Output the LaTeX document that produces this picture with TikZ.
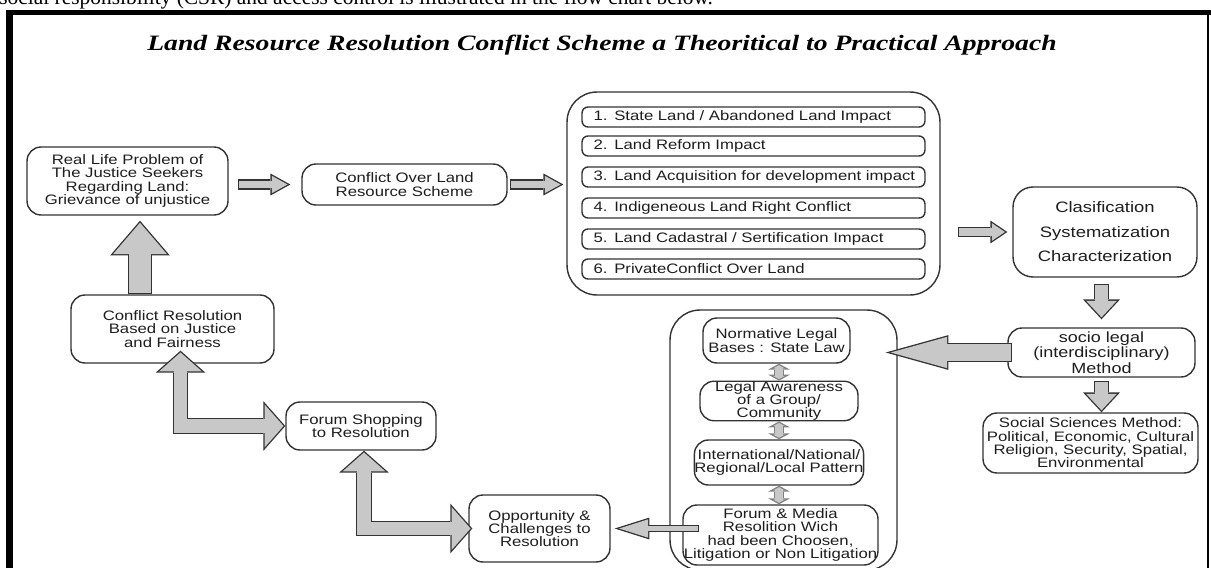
\documentclass[tikz,border=0pt]{standalone}
\usepackage{fontspec}
\usepackage{tikz}
\usetikzlibrary{arrows.meta, positioning, calc}
\newfontfamily\boxfont[FakeStretch=1.22]{Liberation Sans}
\newfontfamily\titlefont[FakeStretch=1.26]{Liberation Serif}
\newfontfamily\pagefont{Liberation Serif}
\definecolor{arrowgray}{HTML}{C8C8C8}
\definecolor{edgegray}{HTML}{333333}
\definecolor{textgray}{HTML}{1E1E1E}

% block arrow: #2 shaft, #3 head length, #4 head width (pt), #5 path
\newcommand{\blockarrow}[5][edgegray]{%
  \pgfmathsetmacro\tipsin{(#4/2)/sqrt((#4/2)^2+(#3)^2)}%
  \pgfmathsetmacro\tipin{0.75/\tipsin}%
  \pgfmathsetmacro\innerlen{#3-0.75-\tipin}%
  \pgfmathsetmacro\innerwid{#4*\innerlen/#3}%
  \draw[#1, line width=#2pt+1.5pt, -{Triangle[length=#3pt, width=#4pt, line width=0pt]}] #5;
  \draw[arrowgray, line width=#2pt, -{Triangle[length=\innerlen pt, width=\innerwid pt, line width=0pt]}, shorten >=\tipin pt, shorten <=0.75pt] #5;
}
\newcommand{\blockarrows}[5][edgegray]{%
  \pgfmathsetmacro\tipsin{(#4/2)/sqrt((#4/2)^2+(#3)^2)}%
  \pgfmathsetmacro\tipin{0.75/\tipsin}%
  \pgfmathsetmacro\innerlen{#3-0.75-\tipin}%
  \pgfmathsetmacro\innerwid{#4*\innerlen/#3}%
  \draw[#1, line width=#2pt+1.5pt, {Triangle[length=#3pt, width=#4pt, line width=0pt]}-{Triangle[length=#3pt, width=#4pt, line width=0pt]}] #5;
  \draw[arrowgray, line width=#2pt, {Triangle[length=\innerlen pt, width=\innerwid pt, line width=0pt]}-{Triangle[length=\innerlen pt, width=\innerwid pt, line width=0pt]}, shorten >=\tipin pt, shorten <=\tipin pt] #5;
}

\begin{document}
\begin{tikzpicture}[x=0.02cm, y=-0.02cm,
  box/.style={rectangle, rounded corners=0.28cm, draw=edgegray, line width=0.8pt, fill=white, text=textgray, align=center, inner sep=0pt, font=\boxfont\fontsize{7.8}{7.6}\selectfont},
  listitem/.style={box, rounded corners=0.12cm, minimum width=6.86cm, minimum height=0.4cm, text width=7.2cm, inner xsep=-0.17cm, inner ysep=0pt, align=left, execute at begin node=\hspace*{0.4cm}},
  groupbox/.style={rectangle, rounded corners=0.6cm, draw=edgegray, line width=0.8pt}
]
\clip (0,0) rectangle (1211,568);

% page frame and running text
\fill[black] (6,10) rectangle (1211,15);
\fill[black] (6,10) rectangle (13,568);
\draw[line width=0.9pt] (1208,12) -- (1208,568);
\node[anchor=base west, inner sep=0pt, font=\pagefont\fontsize{12.2}{14}\selectfont] (intro) at (-1,5) {social responsibility (CSR) and access control is illustrated in the flow chart below.};

\node[font=\titlefont\bfseries\itshape\fontsize{12.5}{13}\selectfont] (title) at (602,45) {Land Resource Resolution Conflict Scheme a Theoritical to Practical Approach};

% top row
\node[box, minimum width=4.02cm, minimum height=1.36cm] (real) at (127.5,181) {Real Life Problem of\\The Justice Seekers\\Regarding Land:\\Grievance of unjustice};
\node[box, minimum width=4.1cm, minimum height=0.82cm] (cfl) at (404.5,184.5) {Conflict Over Land\\Resource Scheme};

\node[groupbox, minimum width=7.46cm, minimum height=4.06cm] (list) at (753.5,193.5) {};
\node[listitem] (it1) at (753.5,117) {1. State Land / Abandoned Land Impact};
\node[listitem] (it2) at (753.5,146) {2. Land Reform Impact};
\node[listitem] (it3) at (753.5,177) {3. Land Acquisition for development impact};
\node[listitem] (it4) at (753.5,208) {4. Indigeneous Land Right Conflict};
\node[listitem] (it5) at (753.5,239) {5. Land Cadastral / Sertification Impact};
\node[listitem] (it6) at (753.5,269) {6. PrivateConflict Over Land};

\node[box, rounded corners=0.4cm, minimum width=3.68cm, minimum height=1.8cm, font=\boxfont\fontsize{8.6}{13.9}\selectfont] (clas) at (1105,232) {Clasification\\Systematization\\Characterization};
\node[box, minimum width=3.74cm, minimum height=0.98cm, font=\boxfont\fontsize{8.4}{7.6}\selectfont] (socio) at (1101.5,352.5) {socio legal\\(interdisciplinary)\\Method};
\node[box, minimum width=4.3cm, minimum height=1.2cm] (social) at (1090.5,443) {Social Sciences Method:\\Political, Economic, Cultural\\Religion, Security, Spatial,\\Environmental};

% legal bases
\node[groupbox, minimum width=4.54cm, minimum height=5.2cm] (legal) at (783.5,440) {};
\node[box, minimum width=2.94cm, minimum height=0.9cm] (norm) at (776.5,340.5) {Normative Legal\\Bases : State Law};
\node[box, minimum width=3.16cm, minimum height=0.76cm] (aware) at (779,401) {Legal Awareness\\of a Group/\\Community};
\node[box, minimum width=3.36cm, minimum height=0.9cm] (intl) at (779,462.5) {International/National/\\Regional/Local Pattern};
\node[box, minimum width=3.9cm, minimum height=1.2cm] (fmed) at (780.5,535) {Forum \& Media\\Resolition Wich\\had been Choosen,\\Litigation or Non Litigation};

% left column
\node[box, minimum width=4.06cm, minimum height=1.36cm] (cres) at (172.5,329) {Conflict Resolution\\Based on Justice\\and Fairness};
\node[box, minimum width=3cm, minimum height=0.96cm] (fshop) at (361,426) {Forum Shopping\\to Resolution};
\node[box, minimum width=2.82cm, minimum height=1.34cm] (opp) at (539.5,528.5) {Opportunity \&\\Challenges to\\Resolution};

\coordinate (upx) at (140,0);

% block arrows
\blockarrow{4.2}{11.3}{12.5}{($(real.east |- cfl.west)+(9,0)$) -- ($(cfl.west)+(-11,0)$)}
\blockarrow{4.2}{11.3}{12.5}{($(cfl.east)+(2,0)$) -- ($(cfl.east -| list.west)+(-3,0)$)}
\blockarrow{4.2}{9.6}{13}{($(list.east |- clas.west)+(17,0)$) -- ($(clas.west)+(-5,0)$)}
\blockarrow{7}{11.3}{21}{($(socio.north |- clas.south)+(0,6)$) -- ($(socio.north)+(0,-8)$)}
\blockarrow{7}{11.3}{21}{($(socio.south)+(0,3)$) -- (socio.south |- social.north)}
\blockarrow{9.3}{35.7}{19.8}{($(socio.west)+(5,0)$) -- ($(socio.west -| legal.east)+(-12,0)$)}
\blockarrow{3}{19.8}{12.5}{($(fmed.west |- opp.east)+(17,0)$) -- ($(opp.east)+(4,0)$)}
\blockarrows[gray]{4.2}{3.4}{12.5}{(aware.north |- norm.south) -- (aware.north)}
\blockarrows[gray]{4.2}{3.4}{12.5}{(aware.south) -- (aware.south |- intl.north)}
\blockarrows[gray]{4.2}{3.4}{12.5}{(intl.south) -- (intl.south |- fmed.north)}
\blockarrow{12.7}{19.8}{34}{(upx |- cres.north) -- ($(upx |- real.south)+(0,5)$)}
\blockarrows{7.6}{12.5}{28.3}{($(cres.south)+(8,-13)$) |- (fshop.west)}
\blockarrows{7.6}{12.5}{28.3}{($(fshop.south)+(3,0)$) |- ($(opp.west)+(4,0)$)}
\end{tikzpicture}
\end{document}
